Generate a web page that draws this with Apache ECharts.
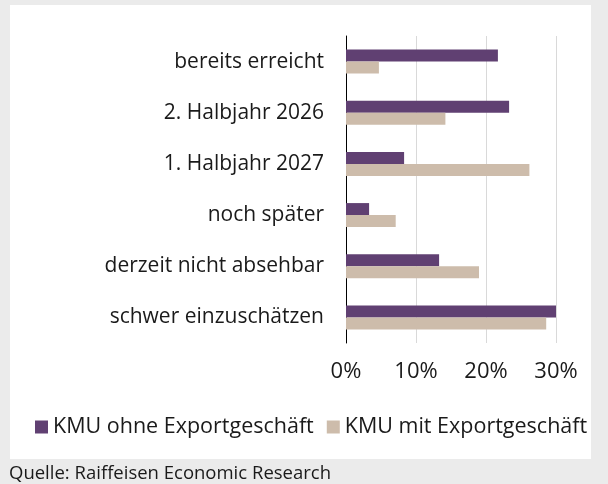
<!DOCTYPE html>
<html>
<head>
<meta charset="utf-8">
<script src="https://cdn.jsdelivr.net/npm/echarts@6/dist/echarts.min.js"></script>
<style>
  html, body { margin: 0; padding: 0; background: #ebebeb; }
  #chart { width: 608px; height: 484px; }
</style>
</head>
<body>
<div id="chart"></div>
<script>
var categories = ['bereits erreicht', '2. Halbjahr 2026', '1. Halbjahr 2027', 'noch später', 'derzeit nicht absehbar', 'schwer einzuschätzen'];
var ohneExport = [21.7, 23.3, 8.3, 3.3, 13.3, 30.0];
var mitExport = [4.7, 14.2, 26.2, 7.1, 19.0, 28.6];
var seriesNames = ['KMU ohne Exportgeschäft', 'KMU mit Exportgeschäft'];

var chartDom = document.getElementById('chart');
var myChart = echarts.init(chartDom);
var font = '"Open Sans", "Noto Sans", sans-serif';

var option = {
  backgroundColor: '#ebebeb',
  animation: false,
  textStyle: { fontFamily: font },
  graphic: [
    {
      type: 'rect',
      shape: { x: 10, y: 5, width: 581, height: 454 },
      style: { fill: '#ffffff' },
      z: -10
    },
    {
      type: 'text',
      left: 9,
      top: 464,
      style: { text: 'Quelle: Raiffeisen Economic Research', fontSize: 18.5, fontFamily: font, fill: '#1a1a1a' }
    }
  ],
  legend: {
    left: 35,
    top: 416,
    padding: 0,
    itemWidth: 13,
    itemHeight: 13,
    itemGap: 13,
    icon: 'rect',
    textStyle: { fontSize: 21.5, color: '#1a1a1a', fontFamily: font },
    data: seriesNames
  },
  grid: { left: 346, right: 52, top: 36, bottom: 141 },
  xAxis: {
    type: 'value',
    min: 0,
    max: 30,
    interval: 10,
    axisLabel: { formatter: '{value}%', fontSize: 22, color: '#1a1a1a', margin: 18 },
    splitLine: { lineStyle: { color: '#d9d9d9', width: 1 } },
    axisLine: { show: false },
    axisTick: { show: false }
  },
  yAxis: {
    type: 'category',
    inverse: true,
    data: categories,
    axisLabel: { fontSize: 21, color: '#1a1a1a', margin: 22 },
    axisLine: { lineStyle: { color: '#000000', width: 1 } },
    axisTick: { show: false }
  },
  series: [
    {
      name: seriesNames[0],
      type: 'bar',
      data: ohneExport,
      barWidth: 12,
      barGap: '0%',
      itemStyle: { color: '#604072' }
    },
    {
      name: seriesNames[1],
      type: 'bar',
      data: mitExport,
      barWidth: 12,
      barGap: '0%',
      itemStyle: { color: '#cdbcab' }
    }
  ]
};

option && myChart.setOption(option);
</script>
</body>
</html>
